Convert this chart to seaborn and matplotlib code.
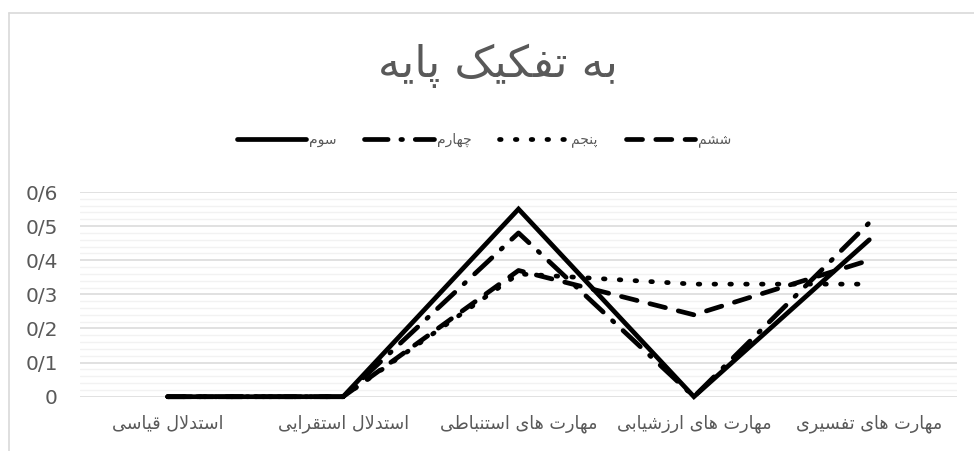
import matplotlib
matplotlib.use("Agg")
import matplotlib.pyplot as plt
from matplotlib.lines import Line2D
import seaborn as sns
import pandas as pd
import numpy as np

# ---------------- data ----------------
categories = ["استدلال قیاسی", "استدلال استقرایی", "مهارت های استنباطی",
              "مهارت های ارزشیابی", "مهارت های تفسیری"]
series_names = ["سوم", "چهارم", "پنجم", "ششم"]
grade3 = [0, 0, 0.55, 0, 0.46]
grade4 = [0, 0, 0.48, 0, 0.51]
grade5 = [0, 0, 0.36, 0.33, 0.33]
grade6 = [0, 0, 0.37, 0.24, 0.40]
y_ticks = [0, 0.1, 0.2, 0.3, 0.4, 0.5, 0.6]
y_tick_labels = ["0", "0/1", "0/2", "0/3", "0/4", "0/5", "0/6"]
title = "به تفکیک پایه"

# ---------------- minimal Persian shaping ----------------
FORMS = {
    'ا': ('\uFE8D', '\uFE8E', None, None),
    'ب': ('\uFE8F', '\uFE90', '\uFE91', '\uFE92'),
    'پ': ('\uFB56', '\uFB57', '\uFB58', '\uFB59'),
    'ت': ('\uFE95', '\uFE96', '\uFE97', '\uFE98'),
    'ج': ('\uFE9D', '\uFE9E', '\uFE9F', '\uFEA0'),
    'چ': ('\uFB7A', '\uFB7B', '\uFB7C', '\uFB7D'),
    'د': ('\uFEA9', '\uFEAA', None, None),
    'ر': ('\uFEAD', '\uFEAE', None, None),
    'ز': ('\uFEAF', '\uFEB0', None, None),
    'س': ('\uFEB1', '\uFEB2', '\uFEB3', '\uFEB4'),
    'ش': ('\uFEB5', '\uFEB6', '\uFEB7', '\uFEB8'),
    'ط': ('\uFEC1', '\uFEC2', '\uFEC3', '\uFEC4'),
    'ف': ('\uFED1', '\uFED2', '\uFED3', '\uFED4'),
    'ق': ('\uFED5', '\uFED6', '\uFED7', '\uFED8'),
    'ک': ('\uFB8E', '\uFB8F', '\uFB90', '\uFB91'),
    'ل': ('\uFEDD', '\uFEDE', '\uFEDF', '\uFEE0'),
    'م': ('\uFEE1', '\uFEE2', '\uFEE3', '\uFEE4'),
    'ن': ('\uFEE5', '\uFEE6', '\uFEE7', '\uFEE8'),
    'ه': ('\uFEE9', '\uFEEA', '\uFEEB', '\uFEEC'),
    'و': ('\uFEED', '\uFEEE', None, None),
    'ی': ('\uFBFC', '\uFBFD', '\uFBFE', '\uFBFF'),
}


def _dual(c):
    return c in FORMS and FORMS[c][2] is not None


def shape(text):
    chars = list(text)
    out = []
    i = 0
    while i < len(chars):
        c = chars[i]
        if c not in FORMS:
            out.append(c)
            i += 1
            continue
        prev = chars[i - 1] if i > 0 else None
        prev_conn = prev is not None and _dual(prev)
        if c == 'ل' and i + 1 < len(chars) and chars[i + 1] == 'ا':
            out.append('\uFEFC' if prev_conn else '\uFEFB')
            i += 2
            continue
        nxt = chars[i + 1] if i + 1 < len(chars) else None
        next_conn = _dual(c) and nxt is not None and nxt in FORMS
        iso, fin, ini, med = FORMS[c]
        if prev_conn and next_conn:
            out.append(med)
        elif prev_conn:
            out.append(fin)
        elif next_conn:
            out.append(ini)
        else:
            out.append(iso)
        i += 1
    return ''.join(reversed(out))


# ---------------- plot ----------------
sns.set_theme(style="white")
plt.rcParams['font.family'] = ['DejaVu Sans']

W, H = 974, 451
fig = plt.figure(figsize=(W / 100, H / 100), dpi=100)
ax = fig.add_axes([80 / W, 1 - 396.7 / H, (957 - 80) / W, (396.7 - 192) / H])

x = np.arange(len(categories))
LW = 3.4
styles = [
    dict(linestyle='-'),
    dict(linestyle=(0, (5.0, 2.7, 0.35, 2.7))),
    dict(linestyle=(0, (0.35, 3.0))),
    dict(linestyle=(0, (3.4, 2.8))),
]
all_series = [grade3, grade4, grade5, grade6]
handles = []
for name, vals, st in zip(series_names, all_series, styles):
    df = pd.DataFrame({"x": x, "y": vals})
    sns.lineplot(data=df, x="x", y="y", ax=ax, color="black", linewidth=LW,
                 dash_capstyle='round', solid_capstyle='round',
                 solid_joinstyle='miter', clip_on=False, **st)
    handles.append(Line2D([0], [0], color="black", linewidth=LW,
                          dash_capstyle='round', solid_capstyle='round', **st))

ax.set_xlim(-0.5, len(categories) - 0.5)
ax.set_ylim(0, 0.6)
ax.set_yticks(y_ticks)
ax.set_yticklabels(y_tick_labels)
ax.set_yticks(np.arange(0, 0.6001, 0.02), minor=True)
ax.set_xticks(x)
ax.set_xticklabels([shape(c) for c in categories])
ax.set_xlabel("")
ax.set_ylabel("")
ax.grid(False)
ax.grid(axis='y', which='minor', color='#f2f2f2', linewidth=1.0, zorder=0)
ax.grid(axis='y', which='major', color='#d9d9d9', linewidth=1.1, zorder=0)
ax.set_axisbelow(True)
for s in ax.spines.values():
    s.set_visible(False)
ax.tick_params(axis='both', which='both', length=0)
ax.tick_params(axis='y', labelsize=14.5, labelcolor='#595959', pad=16)
ax.tick_params(axis='x', labelsize=12.7, labelcolor='#595959', pad=13)

# title
fig.text(498 / W, 1 - 66 / H, shape(title), ha='center', va='center',
         fontsize=32, color='#595959')

# legend
leg = fig.legend(handles, [shape(n) for n in series_names], loc='center',
                 bbox_to_anchor=(484 / W, 1 - 140 / H), ncol=4, frameon=False,
                 fontsize=10, handlelength=5.0, handletextpad=0.2,
                 columnspacing=2.0, labelcolor='#595959')

# chart border (left and top visible)
fig.add_artist(Line2D([8.5 / W, 8.5 / W], [0, 1 - 12.5 / H], color='#d9d9d9',
                      linewidth=1.2, transform=fig.transFigure))
fig.add_artist(Line2D([8.5 / W, 1], [1 - 12.5 / H, 1 - 12.5 / H], color='#d9d9d9',
                      linewidth=1.2, transform=fig.transFigure))

fig.savefig("out.png", dpi=100, facecolor='white')
